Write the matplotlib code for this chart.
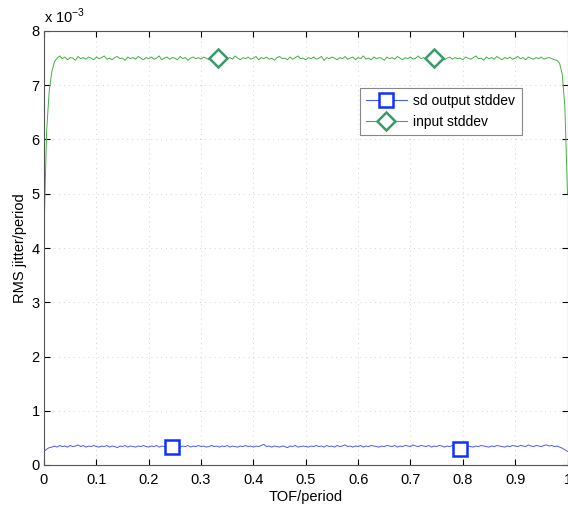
import numpy as np
import matplotlib.pyplot as plt
from matplotlib.lines import Line2D

plt.rcParams['font.family'] = ['Liberation Sans', 'DejaVu Sans']

# input stddev (x 1e-3), sampled every 0.005 of TOF/period
input_std = [
    4.30, 6.15, 6.90, 7.25, 7.43, 7.50, 7.54, 7.49, 7.52, 7.47,
    7.51, 7.50, 7.46, 7.53, 7.49, 7.51, 7.48, 7.52, 7.50, 7.47,
    7.52, 7.49, 7.51, 7.54, 7.48, 7.50, 7.47, 7.51, 7.53, 7.49,
    7.50, 7.46, 7.52, 7.49, 7.51, 7.48, 7.53, 7.50, 7.47, 7.51,
    7.49, 7.52, 7.48, 7.50, 7.54, 7.47, 7.50, 7.52, 7.48, 7.51,
    7.50, 7.47, 7.53, 7.49, 7.51, 7.46, 7.50, 7.52, 7.49, 7.51,
    7.48, 7.52, 7.50, 7.47, 7.51, 7.53, 7.49, 7.50, 7.46, 7.52,
    7.49, 7.51, 7.48, 7.54, 7.50, 7.47, 7.51, 7.49, 7.52, 7.48,
    7.50, 7.53, 7.47, 7.51, 7.49, 7.52, 7.48, 7.50, 7.46, 7.51,
    7.53, 7.49, 7.50, 7.47, 7.52, 7.48, 7.51, 7.54, 7.49, 7.50,
    7.47, 7.51, 7.49, 7.52, 7.48, 7.50, 7.53, 7.46, 7.51, 7.49,
    7.52, 7.50, 7.47, 7.51, 7.49, 7.53, 7.48, 7.50, 7.52, 7.47,
    7.51, 7.49, 7.54, 7.48, 7.50, 7.47, 7.52, 7.49, 7.51, 7.50,
    7.46, 7.52, 7.49, 7.51, 7.48, 7.53, 7.50, 7.47, 7.51, 7.49,
    7.52, 7.48, 7.50, 7.54, 7.49, 7.51, 7.47, 7.50, 7.52, 7.48,
    7.51, 7.49, 7.53, 7.47, 7.50, 7.52, 7.48, 7.51, 7.49, 7.50,
    7.47, 7.52, 7.50, 7.48, 7.51, 7.54, 7.49, 7.50, 7.46, 7.52,
    7.49, 7.51, 7.48, 7.53, 7.50, 7.47, 7.51, 7.49, 7.52, 7.48,
    7.50, 7.53, 7.49, 7.51, 7.47, 7.52, 7.50, 7.48, 7.51, 7.49,
    7.52, 7.48, 7.50, 7.51, 7.49, 7.47, 7.46, 7.40, 7.20, 6.60,
    5.00,
]

# sd output stddev (x 1e-3)
output_std = [
    0.25, 0.29, 0.32, 0.33, 0.35, 0.33, 0.36, 0.34, 0.35, 0.33,
    0.36, 0.34, 0.35, 0.37, 0.34, 0.36, 0.33, 0.35, 0.34, 0.36,
    0.34, 0.33, 0.35, 0.34, 0.36, 0.33, 0.35, 0.34, 0.32, 0.35,
    0.34, 0.36, 0.33, 0.35, 0.34, 0.33, 0.35, 0.34, 0.36, 0.34,
    0.33, 0.35, 0.34, 0.36, 0.33, 0.35, 0.34, 0.33, 0.35, 0.34,
    0.36, 0.34, 0.33, 0.35, 0.34, 0.36, 0.33, 0.35, 0.34, 0.36,
    0.34, 0.35, 0.33, 0.34, 0.36, 0.34, 0.35, 0.33, 0.35, 0.34,
    0.36, 0.33, 0.35, 0.34, 0.33, 0.35, 0.34, 0.36, 0.34, 0.35,
    0.33, 0.35, 0.34, 0.36, 0.38, 0.34, 0.35, 0.33, 0.35, 0.34,
    0.33, 0.35, 0.34, 0.32, 0.35, 0.34, 0.36, 0.33, 0.34, 0.35,
    0.34, 0.33, 0.35, 0.34, 0.36, 0.34, 0.35, 0.33, 0.36, 0.34,
    0.35, 0.33, 0.36, 0.34, 0.35, 0.37, 0.34, 0.35, 0.33, 0.35,
    0.34, 0.36, 0.33, 0.35, 0.34, 0.36, 0.35, 0.34, 0.33, 0.35,
    0.34, 0.36, 0.35, 0.34, 0.36, 0.33, 0.35, 0.34, 0.36, 0.35,
    0.34, 0.37, 0.35, 0.34, 0.36, 0.35, 0.34, 0.36, 0.33, 0.35,
    0.34, 0.36, 0.35, 0.33, 0.35, 0.34, 0.36, 0.34, 0.33, 0.35,
    0.34, 0.36, 0.35, 0.34, 0.33, 0.35, 0.34, 0.36, 0.35, 0.34,
    0.33, 0.35, 0.34, 0.36, 0.35, 0.34, 0.33, 0.35, 0.34, 0.36,
    0.35, 0.34, 0.36, 0.35, 0.34, 0.37, 0.35, 0.34, 0.36, 0.35,
    0.34, 0.36, 0.37, 0.35, 0.36, 0.34, 0.35, 0.33, 0.31, 0.28,
    0.25,
]

tof = np.linspace(0, 1, len(input_std))

# marker positions
out_mark_x = [0.245, 0.795]
out_mark_y = [0.33, 0.30]
in_mark_x = [0.333, 0.745]
in_mark_y = [7.50, 7.50]

blue_line = '#4a5aff'
blue_mark = '#1030ff'
green_line = '#44b044'
green_mark = '#3a9a6a'

fig = plt.figure(figsize=(5.68, 5.09), dpi=100)
ax = fig.add_axes([44 / 568, 44 / 509, 523.5 / 568, 434 / 509])

scale = 1e-3
ax.plot(tof, np.array(output_std) * scale, color=blue_line, lw=0.7)
ax.plot(tof, np.array(input_std) * scale, color=green_line, lw=0.7)
ax.plot(out_mark_x, np.array(out_mark_y) * scale, ls='none', marker='s', ms=10,
        mfc='white', mec=blue_mark, mew=1.8)
ax.plot(in_mark_x, np.array(in_mark_y) * scale, ls='none', marker='D', ms=9,
        mfc='white', mec=green_mark, mew=1.8)

ax.set_xlim(0, 1)
ax.set_ylim(0, 8e-3)
ax.set_xticks(np.arange(0, 1.01, 0.1))
ax.set_xticklabels(['0', '0.1', '0.2', '0.3', '0.4', '0.5', '0.6', '0.7', '0.8', '0.9', '1'])
ax.set_yticks(np.arange(0, 8.1, 1) * scale)
ax.set_yticklabels([str(i) for i in range(9)])
ax.tick_params(direction='in', top=True, right=True, labelsize=10.5, length=4)
ax.tick_params(axis='x', pad=6)
ax.tick_params(axis='y', pad=3)
ax.grid(True, ls=(0, (1, 4)), color='#d2d2d2', lw=0.7)
for s in ax.spines.values():
    s.set_color('#555555')
    s.set_linewidth(0.8)

ax.set_xlabel('TOF/period', fontsize=10.5, labelpad=2)
ax.set_ylabel('RMS jitter/period', fontsize=10.5, labelpad=3)
ax.text(0.0, 1.012, r'x 10$^{\mathregular{-3}}$', transform=ax.transAxes, fontsize=10.5,
        va='bottom', ha='left')

handles = [
    Line2D([], [], color=blue_line, lw=0.8, marker='s', ms=10, mfc='white',
           mec=blue_mark, mew=1.8),
    Line2D([], [], color=green_line, lw=0.8, marker='D', ms=9, mfc='white',
           mec=green_mark, mew=1.8),
]
leg = ax.legend(handles, ['sd output stddev', 'input stddev'], loc='upper left',
                bbox_to_anchor=(316 / 523.5, 1 - 57 / 434), borderaxespad=0,
                fontsize=10, fancybox=False, framealpha=1, edgecolor='#888888',
                handlelength=2.9, handletextpad=0.5, borderpad=0.45,
                labelspacing=0.5)
leg.get_frame().set_linewidth(0.8)

fig.savefig('out.png', dpi=100)
